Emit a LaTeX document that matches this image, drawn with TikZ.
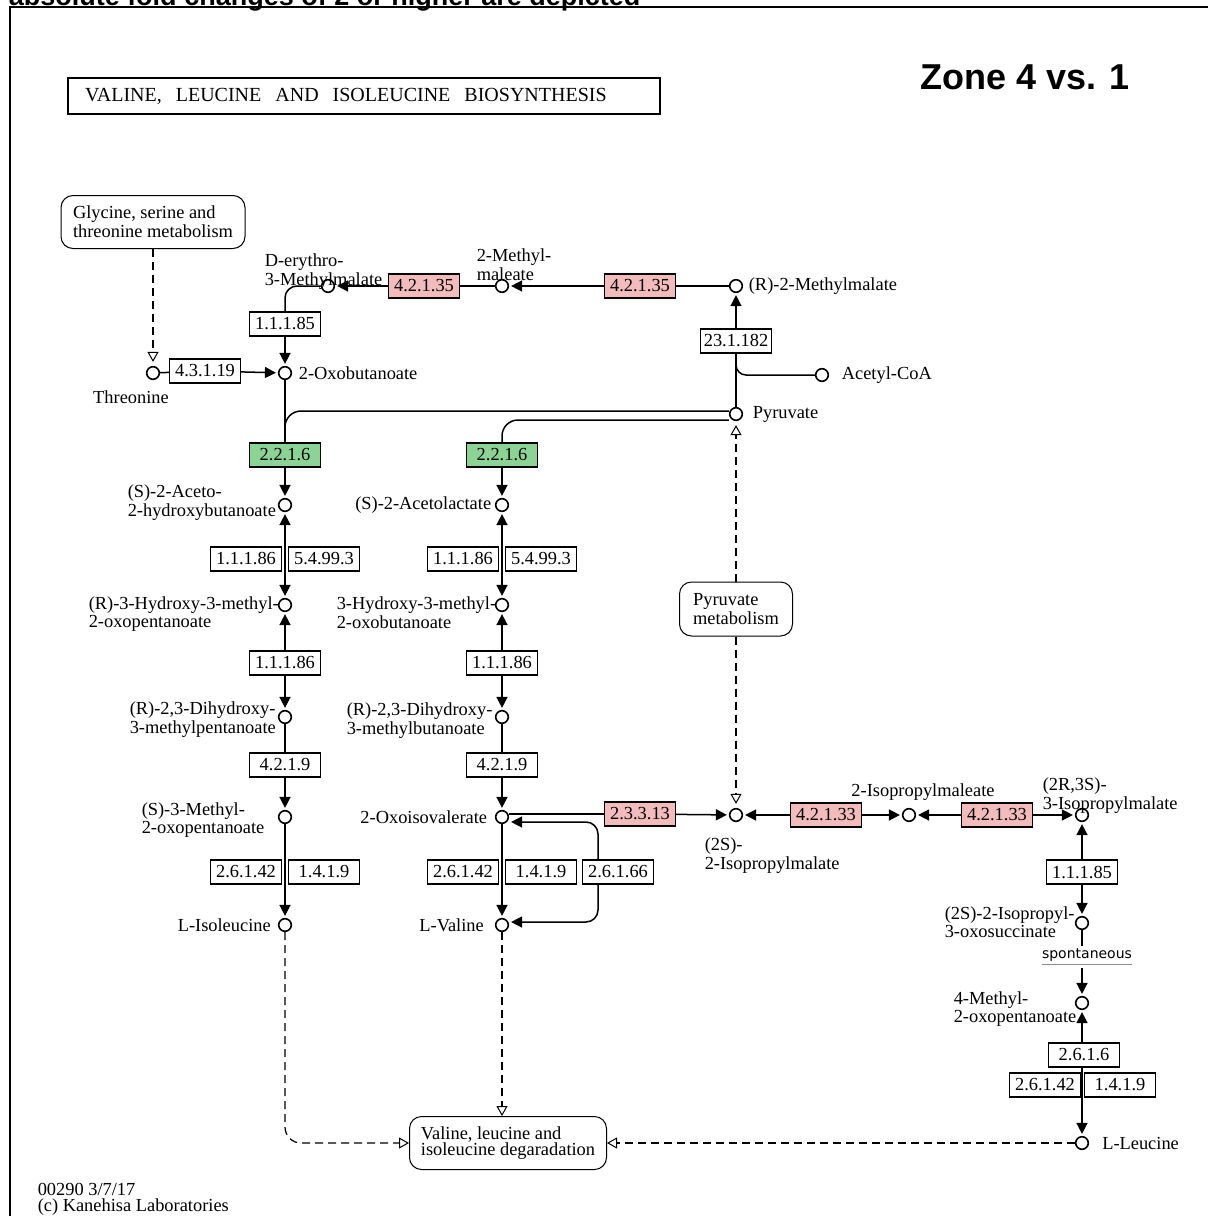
\documentclass[tikz,border=0pt]{standalone}
\usepackage{fontspec}
\setmainfont{Liberation Serif}
\newfontfamily\headfont{Liberation Sans}
\newfontfamily\tagfont{DejaVu Sans}
\usetikzlibrary{arrows.meta, positioning}
\definecolor{enzpink}{RGB}{242,188,188}
\definecolor{enzgreen}{RGB}{140,212,150}
\newcommand{\keggsize}{\fontsize{9.2}{8}\selectfont}
\newcommand{\wgap}{\hspace{7pt}}

\begin{document}
\begin{tikzpicture}[
    x=0.5pt, y=-0.5pt,
    line width=0.75pt,
    enz/.style={draw, line width=0.65pt, fill=white, minimum width=35.5pt,
        minimum height=12pt, inner sep=1pt, font=\keggsize},
    cpd/.style={circle, draw, line width=0.8pt, fill=white, minimum size=6.3pt, inner sep=0pt},
    pmap/.style={draw, rounded corners=6pt, line width=0.5pt, align=left, font=\keggsize},
    lab/.style={inner sep=1pt, align=left, font=\keggsize},
    arr/.style={-{Triangle[length=5.5pt, width=5.5pt]}, shorten >=1pt},
    biarr/.style={{Triangle[length=5.5pt, width=5.5pt]}-{Triangle[length=5.5pt, width=5.5pt]},
        shorten >=1pt, shorten <=1pt},
    darr/.style={-{Triangle[open, length=5pt, width=5.5pt, line width=0.5pt]},
        dash pattern=on 4pt off 2.5pt, line width=0.6pt, shorten >=2pt}
]
    \useasboundingbox (0,0) rectangle (1208,1216);
    \draw[line width=1pt] (1240,7) -- (10,7) -- (10,1240);
    \node[font=\headfont\bfseries\fontsize{13.5}{15}\selectfont, anchor=base west, inner sep=0pt]
        (note) at (8,5) {absolute fold changes of 2 or higher are depicted};
    \node[font=\headfont\bfseries\fontsize{18}{20}\selectfont, inner sep=0pt] (zone) at (1025,77) {Zone 4 vs. 1};
    \node[draw, line width=1.1pt, minimum height=18pt, inner xsep=8.5pt, text width=279pt,
        align=left, font=\fontsize{10}{12}\selectfont] (title) at (364,96)
        {VALINE,\wgap LEUCINE\wgap AND\wgap ISOLEUCINE\wgap BIOSYNTHESIS};
    \node[lab, anchor=north west, inner sep=0pt] (stamp) at (37,1182) {00290 3/7/17\\(c) Kanehisa Laboratories};

    \node[pmap, minimum width=92pt, minimum height=26.5pt] (gly) at (153,222) {Glycine, serine and\\threonine metabolism};
    \node[pmap, minimum width=56.5pt, minimum height=27pt] (pyrm) at (736,609) {Pyruvate\\metabolism};
    \node[pmap, minimum width=98.5pt, minimum height=26.5pt] (deg) at (508,1143) {Valine, leucine and\\isoleucine degaradation};

    \node[cpd] (thr) at (153,373) {};
    \node[cpd] (oxb) at (285,373) {};
    \node[cpd] (dem) at (328,286) {};
    \node[cpd] (mma) at (502,286) {};
    \node[cpd] (rmm) at (736,286) {};
    \node[cpd] (acoa) at (822,375) {};
    \node[cpd] (pyr) at (736,414) {};
    \node[cpd] (ahb) at (285,505) {};
    \node[cpd] (alac) at (502,505) {};
    \node[cpd] (hmo) at (285,605) {};
    \node[cpd] (hmb) at (502,605) {};
    \node[cpd] (dhp) at (285,717) {};
    \node[cpd] (dhb) at (502,717) {};
    \node[cpd] (mop) at (285,817) {};
    \node[cpd] (oiv) at (502,817) {};
    \node[cpd] (ile) at (285,925) {};
    \node[cpd] (val) at (502,925) {};
    \node[cpd] (ipm) at (736,815) {};
    \node[cpd] (ipmal) at (909,815) {};
    \node[cpd] (ripm) at (1082,815) {};
    \node[cpd] (ios) at (1082,923) {};
    \node[cpd] (mop4) at (1082,1003) {};
    \node[cpd] (leu) at (1082,1143) {};

    \node[lab] (lthr) at (131,397) {Threonine};
    \node[lab, right=2pt of oxb] (loxb) {2-Oxobutanoate};
    \node[lab, anchor=north west] (ldem) at (262,251) {D-erythro-\\3-Methylmalate};
    \node[lab, anchor=north west] (lmma) at (474,246) {2-Methyl-\\maleate};
    \node[lab, right=1.5pt of rmm] (lrmm) {(R)-2-Methylmalate};
    \node[lab, right=5pt of acoa] (lacoa) {Acetyl-CoA};
    \node[lab, right=3.5pt of pyr] (lpyr) {Pyruvate};
    \node[lab, anchor=north west] (lahb) at (125,482) {(S)-2-Aceto-\\2-hydroxybutanoate};
    \node[lab, left=0.5pt of alac] (lalac) {(S)-2-Acetolactate};
    \node[lab, anchor=north west] (lhmo) at (86,594) {(R)-3-Hydroxy-3-methyl-\\2-oxopentanoate};
    \node[lab, anchor=north west] (lhmb) at (334,594) {3-Hydroxy-3-methyl-\\2-oxobutanoate};
    \node[lab, anchor=north west] (ldhp) at (127,699) {(R)-2,3-Dihydroxy-\\3-methylpentanoate};
    \node[lab, anchor=north west] (ldhb) at (344,700) {(R)-2,3-Dihydroxy-\\3-methylbutanoate};
    \node[lab, anchor=north west] (lmop) at (139,800) {(S)-3-Methyl-\\2-oxopentanoate};
    \node[lab, left=2.5pt of oiv] (loiv) {2-Oxoisovalerate};
    \node[lab, left=2.2pt of ile] (lile) {L-Isoleucine};
    \node[lab, left=4.2pt of val] (lval) {L-Valine};
    \node[lab, anchor=north west] (lipm) at (702,835) {(2S)-\\2-Isopropylmalate};
    \node[lab] (lipmal) at (923,792) {2-Isopropylmaleate};
    \node[lab, anchor=north west] (lripm) at (1040,775) {(2R,3S)-\\3-Isopropylmalate};
    \node[lab, anchor=north west] (lios) at (942,904) {(2S)-2-Isopropyl-\\3-oxosuccinate};
    \node[lab, anchor=north west] (lmop4) at (951,989) {4-Methyl-\\2-oxopentanoate};
    \node[lab, right=5.2pt of leu] (lleu) {L-Leucine};

    \node[enz] (e43119) at (205,371) {4.3.1.19};
    \node[enz] (e11185a) at (285,324) {1.1.1.85};
    \node[enz, fill=enzpink] (e42135a) at (424,286) {4.2.1.35};
    \node[enz, fill=enzpink] (e42135b) at (640,286) {4.2.1.35};
    \node[enz] (e231182) at (736,341) {23.1.182};
    \node[enz, fill=enzgreen] (e2216a) at (285,455) {2.2.1.6};
    \node[enz, fill=enzgreen] (e2216b) at (502,455) {2.2.1.6};
    \node[enz] (e11186a) at (246,559) {1.1.1.86};
    \node[enz] (e54993a) at (324,559) {5.4.99.3};
    \node[enz] (e11186b) at (463,559) {1.1.1.86};
    \node[enz] (e54993b) at (541,559) {5.4.99.3};
    \node[enz] (e11186c) at (285,663) {1.1.1.86};
    \node[enz] (e11186d) at (502,663) {1.1.1.86};
    \node[enz] (e4219a) at (285,765) {4.2.1.9};
    \node[enz] (e4219b) at (502,765) {4.2.1.9};
    \node[enz] (e26142a) at (246,872) {2.6.1.42};
    \node[enz] (e1419a) at (324,872) {1.4.1.9};
    \node[enz] (e26142b) at (463,872) {2.6.1.42};
    \node[enz] (e1419b) at (541,872) {1.4.1.9};
    \node[enz] (e26166) at (618,872) {2.6.1.66};
    \node[enz, fill=enzpink] (e23313) at (640,814) {2.3.3.13};
    \node[enz, fill=enzpink] (e42133a) at (826,815) {4.2.1.33};
    \node[enz, fill=enzpink] (e42133b) at (997,815) {4.2.1.33};
    \node[enz] (e11185b) at (1082,872) {1.1.1.85};
    \node[font=\tagfont\fontsize{7}{8}\selectfont, inner sep=1pt] (spont) at (1087,957)
        {{\color{black!45}\underline{\textcolor{black}{spontaneous}}}};
    \node[enz] (e2616) at (1084,1055) {2.6.1.6};
    \node[enz] (e26142c) at (1045,1085) {2.6.1.42};
    \node[enz] (e1419c) at (1120,1085) {1.4.1.9};

    \draw[darr] (gly) -- (thr);
    \draw (thr) -- (e43119);
    \draw[arr] (e43119) -- (oxb);
    \draw[rounded corners=6pt] (dem) -| (e11185a);
    \draw[arr] (e11185a) -- (oxb);
    \draw[arr] (e42135a) -- (dem);
    \draw (mma) -- (e42135a);
    \draw[arr] (e42135b) -- (mma);
    \draw (rmm) -- (e42135b);
    \draw[arr] (e231182) -- (rmm);
    \draw (pyr) -- (e231182);
    \coordinate (acj) at (736,362);
    \draw[rounded corners=5pt] (acoa) -| (acj);
    \draw (oxb) -- (e2216a);
    \draw[rounded corners=8pt] ([yshift=1.5pt]pyr.west) -| (e2216a);
    \draw[rounded corners=8pt] ([yshift=-3pt]pyr.west) -| (e2216b);
    \draw[arr] (e2216a) -- (ahb);
    \draw[arr] (e2216b) -- (alac);
    \draw[biarr] (ahb) -- (hmo);
    \draw[biarr] (alac) -- (hmb);
    \draw[arr] (e11186c) -- (hmo);
    \draw[arr] (e11186c) -- (dhp);
    \draw[arr] (e11186d) -- (hmb);
    \draw[arr] (e11186d) -- (dhb);
    \draw (dhp) -- (e4219a);
    \draw[arr] (e4219a) -- (mop);
    \draw (dhb) -- (e4219b);
    \draw[arr] (e4219b) -- (oiv);
    \draw[arr] (mop) -- (ile);
    \draw[arr] (oiv) -- (val);
    \draw[arr, rounded corners=6pt] ([xshift=-10pt]e26166.north) |- ([yshift=-2.5pt]oiv.east);
    \draw[arr, rounded corners=6pt] ([xshift=-10pt]e26166.south) |- ([yshift=1.5pt]val.east);
    \draw ([yshift=1.5pt]oiv.east) -- (e23313);
    \draw[arr] (e23313) -- (ipm);
    \draw[arr] (e42133a) -- (ipm);
    \draw[arr] (e42133a) -- (ipmal);
    \draw[arr] (e42133b) -- (ipmal);
    \draw[arr] (e42133b) -- (ripm);
    \draw[darr] (pyrm) -- (pyr);
    \draw[darr] (pyrm) -- (ipm);
    \draw[arr] (e11185b) -- (ripm);
    \draw[arr] (e11185b) -- (ios);
    \draw (ios) -- (ios |- spont.north);
    \draw[arr] (ios |- spont.south) -- (mop4);
    \draw[arr] (e2616.north -| mop4) -- (mop4);
    \draw[arr] (e2616.south -| leu) -- (leu);
    \draw[darr, shorten >=0pt] (val) -- (val |- deg.north);
    \draw[darr, shorten >=0pt, rounded corners=8pt] (ile) |- (deg);
    \draw[darr, shorten >=0pt] (leu) -- (deg);
\end{tikzpicture}
\end{document}
